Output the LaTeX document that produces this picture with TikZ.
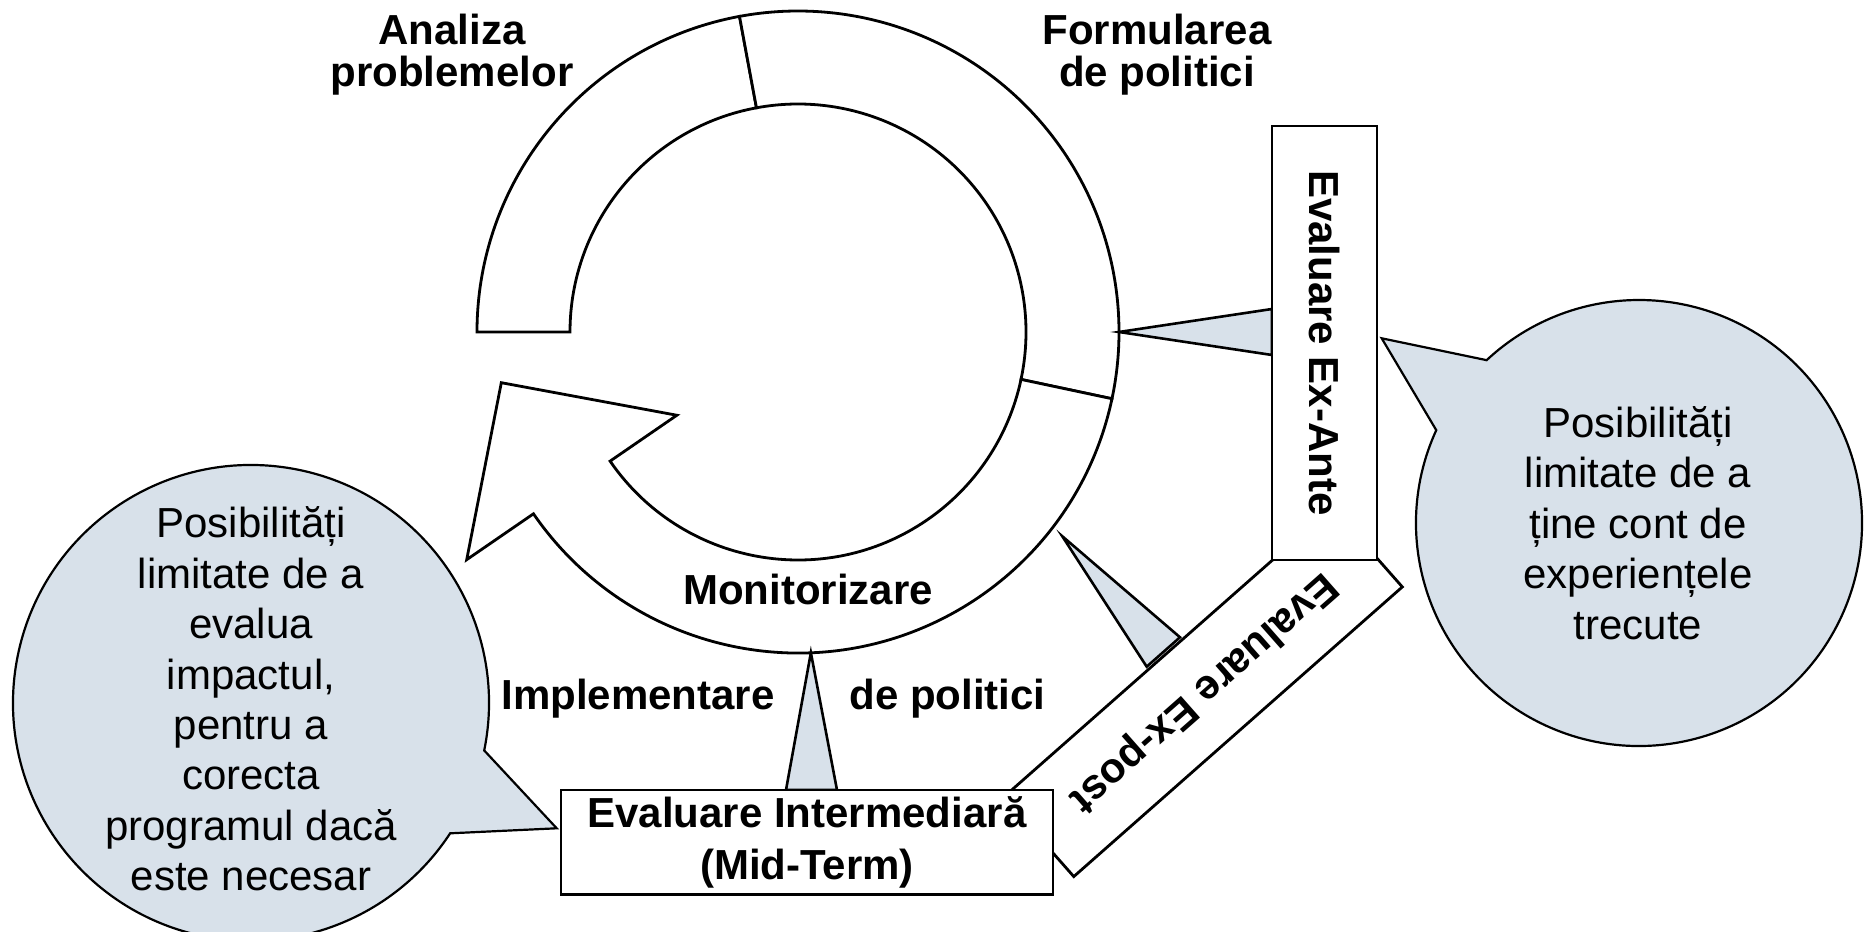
\documentclass[tikz,border=0pt]{standalone}
\usepackage{fontspec}
\setmainfont{Liberation Sans}
\usepackage{color}
\definecolor{bubblegray}{RGB}{216, 225, 234}
\usepackage{tikz}
\usetikzlibrary{calc}
\tikzstyle{ringpart} = [draw,fill=white,line width=1.4pt]
\tikzstyle{evalbox} = [draw,fill=white,line width=1.4pt,font=\fontsize{21}{26}\selectfont\bfseries,inner sep=0pt,align=center]
\tikzstyle{pointer} = [draw,fill=bubblegray,line width=1.3pt]
\tikzstyle{bubble} = [draw,fill=bubblegray,line width=1.1pt]
\tikzstyle{phase} = [font=\fontsize{21}{21}\selectfont\bfseries,align=center]
\tikzstyle{note} = [font=\fontsize{21}{25.2}\selectfont,align=center]

\begin{document}
\begin{tikzpicture}[x=0.5pt,y=0.5pt,very thick]
    \useasboundingbox (0,0) rectangle (1870,932);
    \clip (0,0) rectangle (1870,932);

    % the policy cycle
    \coordinate (c) at (798,600);
    \def\Rout{321}
    \def\Rin{228}
    \draw[ringpart] ($(c)+(180:\Rout)$) arc[start angle=180,end angle=100.5,radius=\Rout]
        -- ($(c)+(100.5:\Rin)$) arc[start angle=100.5,end angle=180,radius=\Rin] -- cycle;
    \draw[ringpart] ($(c)+(100.5:\Rout)$) arc[start angle=100.5,end angle=-12,radius=\Rout]
        -- ($(c)+(-12:\Rin)$) arc[start angle=-12,end angle=100.5,radius=\Rin] -- cycle;
    \draw[ringpart] ($(c)+(-12:\Rout)$) arc[start angle=-12,end angle=-145.5,radius=\Rout]
        -- ($(c)+(-145.5:402)$) -- ($(c)+(-170.3:301)$) -- ($(c)+(-145.5:147)$)
        -- ($(c)+(-145.5:\Rin)$) arc[start angle=-145.5,end angle=-12,radius=\Rin] -- cycle;

    % evaluations
    \node[evalbox,rotate=221.4,minimum width=219pt,minimum height=53pt] (expost) at (1203,240) {};
    \node[phase,rotate=221.4] (expost text) at (expost.center) {Evaluare Ex-post};

    \coordinate (ante tip) at ($(c)+(0:\Rout)$);
    \coordinate (post tip) at ($(c)+(-37.7:334)$);
    \coordinate (mid tip)  at ($(c)+(-87.7:\Rout)$);
    \draw[pointer] (ante tip) -- (1272,623) -- (1272,577) -- cycle;
    \draw[pointer] (post tip) -- (1146.7,265.3) -- (1180,294.7) -- cycle;
    \draw[pointer] (mid tip) -- (786,142) -- (837,142) -- cycle;

    \node[evalbox,rotate=-90,minimum width=217pt,minimum height=52.5pt] (exante) at (1324.5,589) {Evaluare Ex-Ante};
    \node[evalbox,minimum width=246pt,minimum height=52.25pt] (midterm) at (807,89.75) {Evaluare Intermediară\\(Mid-Term)};

    % callouts
    \coordinate (lc) at (251,229);
    \coordinate (rc) at (1639,409);
    \draw[bubble] ($(lc)+(-11.5:238)$) arc[start angle=-11.5,end angle=326.8,radius=238] -- (556.7,103.7) -- cycle;
    \draw[bubble] ($(rc)+(155.4:223)$) arc[start angle=155.4,end angle=493.1,radius=223] -- (1381.7,593.7) -- cycle;

    \node[note] (left note) at (251,233) {Posibilități\\limitate de a\\evalua\\impactul,\\pentru a\\corecta\\programul dacă\\este necesar};
    \node[note] (right note) at (1638,409) {Posibilități\\limitate de a\\ține cont de\\experiențele\\trecute};

    % stage names
    \node[phase] (analiza) at (452,877) {Analiza\\problemelor};
    \node[phase] (formularea) at (1157,877) {Formularea\\de politici};
    \node[phase,anchor=base] (monitor) at (808,327) {Monitorizare};
    \node[phase,anchor=base] (implement) at (638,222) {Implementare};
    \node[phase,anchor=base] (politici) at (947.5,222) {de politici};
\end{tikzpicture}
\end{document}
